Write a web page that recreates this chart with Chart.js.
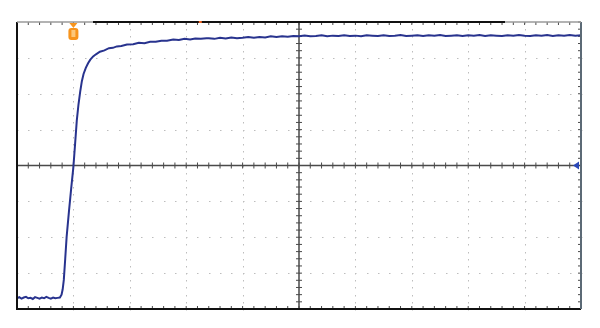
<!DOCTYPE html>
<html>
<head>
<meta charset="utf-8">
<script src="https://cdn.jsdelivr.net/npm/chart.js@4/dist/chart.umd.min.js"></script>
<style>
  html, body { margin: 0; padding: 0; background: #ffffff; }
  #wrap { width: 600px; height: 328px; }
</style>
</head>
<body>
<div id="wrap"><canvas id="c" width="600" height="328"></canvas></div>
<script>
// Horizontal position in divisions (-5 .. 5), vertical value in divisions (-4 .. 4)
const timeDiv = [
  -5.00,-4.96,-4.92,-4.88,-4.84,-4.80,-4.76,-4.72,-4.68,-4.64,-4.60,-4.56,-4.52,-4.48,-4.44,-4.40,-4.36,-4.32,-4.28,-4.24,
  -4.21,-4.19,-4.17,-4.145,-4.12,-4.08,-4.04,-4.00,-3.97,-3.94,-3.91,-3.88,-3.85,-3.82,-3.78,-3.74,-3.70,-3.65,-3.60,
  -3.53,-3.45,-3.37,-3.30,-3.23,-3.15,-3.05,-2.94,-2.84,-2.74,-2.64,-2.54,-2.44,-2.34,-2.23,-2.13,-2.03,-1.93,-1.84,-1.74,-1.64,
  -1.6,-1.5,-1.4,-1.3,-1.2,-1.1,-1.0,-0.9,-0.8,-0.7,-0.6,-0.5,-0.4,-0.3,-0.2,-0.1,
  0.0,0.1,0.2,0.3,0.4,0.5,0.6,0.7,0.8,0.9,1.0,1.1,1.2,1.3,1.4,1.5,1.6,1.7,1.8,1.9,
  2.0,2.1,2.2,2.3,2.4,2.5,2.6,2.7,2.8,2.9,3.0,3.1,3.2,3.3,3.4,3.5,3.6,3.7,3.8,3.9,
  4.0,4.1,4.2,4.3,4.4,4.5,4.6,4.7,4.8,4.9,5.0
];
const traceDiv = [
  -3.70,-3.67,-3.71,-3.68,-3.66,-3.70,-3.69,-3.72,-3.67,-3.69,-3.71,-3.68,-3.70,-3.66,-3.69,-3.71,-3.68,-3.70,-3.69,-3.68,
  -3.60,-3.45,-3.19,-2.60,-1.99,-1.30,-0.65,-0.04,0.60,1.25,1.70,2.05,2.35,2.55,2.72,2.85,2.95,3.04,3.10,
  3.17,3.21,3.27,3.28,3.32,3.33,3.37,3.38,3.42,3.41,3.45,3.45,3.48,3.48,3.51,3.50,3.53,3.51,3.54,3.53,3.55,
  3.55,3.53,3.56,3.54,3.57,3.55,3.56,3.58,3.56,3.58,3.57,3.60,3.58,3.60,3.59,3.61,
  3.60,3.62,3.60,3.61,3.63,3.60,3.62,3.61,3.63,3.61,3.62,3.60,3.63,3.62,3.61,3.63,3.61,3.62,3.64,3.61,
  3.62,3.63,3.61,3.63,3.62,3.64,3.61,3.62,3.63,3.61,3.63,3.62,3.64,3.61,3.63,3.62,3.61,3.63,3.62,3.64,
  3.62,3.61,3.63,3.62,3.64,3.61,3.63,3.62,3.64,3.62,3.63
];
const xDivisions = [-5, 5];
const yDivisions = [-4, 4];
const triggerPos = -4.0;
const markerPos = -1.75;

const points = timeDiv.map((t, i) => ({ x: t, y: traceDiv[i] }));

const scopePlugin = {
  id: 'scope',
  beforeDatasetsDraw(chart) {
    const ctx = chart.ctx, xs = chart.scales.x, ys = chart.scales.y;
    const a = chart.chartArea;
    ctx.save();
    ctx.fillStyle = '#bdbdbd';
    // dotted graticule
    for (let i = xDivisions[0] + 1; i < xDivisions[1]; i++) {
      if (i === 0) continue;
      const px = Math.round(xs.getPixelForValue(i));
      for (let k = 0; k <= (yDivisions[1] - yDivisions[0]) * 5; k++) {
        const py = Math.round(ys.getPixelForValue(yDivisions[0] + k * 0.2));
        ctx.fillRect(px, py, 1, 1.5);
      }
    }
    for (let j = yDivisions[0] + 1; j < yDivisions[1]; j++) {
      if (j === 0) continue;
      const py = Math.round(ys.getPixelForValue(j));
      for (let k = 0; k <= (xDivisions[1] - xDivisions[0]) * 5; k++) {
        const px = Math.round(xs.getPixelForValue(xDivisions[0] + k * 0.2));
        ctx.fillRect(px, py, 1.5, 1);
      }
    }
    // center axes
    const cx = xs.getPixelForValue(0), cy = ys.getPixelForValue(0);
    ctx.strokeStyle = '#4a4a4a';
    ctx.lineWidth = 1.5;
    ctx.beginPath();
    ctx.moveTo(a.left, cy); ctx.lineTo(a.right, cy);
    ctx.moveTo(cx, a.top); ctx.lineTo(cx, a.bottom);
    ctx.stroke();
    ctx.lineWidth = 1;
    ctx.beginPath();
    for (let k = 0; k <= (xDivisions[1] - xDivisions[0]) * 5; k++) {
      const px = xs.getPixelForValue(xDivisions[0] + k * 0.2);
      ctx.moveTo(px, cy - 3); ctx.lineTo(px, cy + 3);
      ctx.moveTo(px, a.top); ctx.lineTo(px, a.top + 3);
      ctx.moveTo(px, a.bottom); ctx.lineTo(px, a.bottom - 3);
    }
    for (let k = 0; k <= (yDivisions[1] - yDivisions[0]) * 5; k++) {
      const py = ys.getPixelForValue(yDivisions[0] + k * 0.2);
      ctx.moveTo(cx - 3, py); ctx.lineTo(cx + 3, py);
      ctx.moveTo(a.right, py); ctx.lineTo(a.right - 3, py);
    }
    ctx.stroke();
    ctx.restore();
  },
  afterDatasetsDraw(chart) {
    const ctx = chart.ctx, xs = chart.scales.x, ys = chart.scales.y;
    const a = chart.chartArea;
    ctx.save();
    // borders
    ctx.lineWidth = 2;
    ctx.strokeStyle = '#111111';
    ctx.beginPath();
    ctx.moveTo(a.left, a.top); ctx.lineTo(a.left, a.bottom); ctx.lineTo(a.right, a.bottom);
    ctx.stroke();
    ctx.strokeStyle = '#5c6a76';
    ctx.beginPath();
    ctx.moveTo(a.right, a.top); ctx.lineTo(a.right, a.bottom);
    ctx.stroke();
    ctx.lineWidth = 1.5;
    ctx.strokeStyle = '#9a9a9a';
    ctx.beginPath();
    ctx.moveTo(a.left, a.top); ctx.lineTo(a.left + 76, a.top);
    ctx.moveTo(a.right - 76, a.top); ctx.lineTo(a.right, a.top);
    ctx.stroke();
    ctx.strokeStyle = '#111111';
    ctx.lineWidth = 2;
    ctx.beginPath();
    ctx.moveTo(a.left + 76, a.top); ctx.lineTo(a.right - 76, a.top);
    ctx.stroke();
    // trigger position marker
    const tx = xs.getPixelForValue(triggerPos);
    ctx.fillStyle = '#f7941d';
    ctx.beginPath();
    ctx.moveTo(tx - 4, a.top + 1); ctx.lineTo(tx + 4, a.top + 1); ctx.lineTo(tx, a.top + 6);
    ctx.closePath(); ctx.fill();
    ctx.beginPath();
    ctx.roundRect(tx - 5, a.top + 6, 10, 12, 3);
    ctx.fill();
    ctx.fillStyle = '#fcc77a';
    ctx.fillRect(tx - 2, a.top + 8, 4, 7);
    // small marker on top edge
    ctx.fillStyle = '#f26522';
    ctx.fillRect(xs.getPixelForValue(markerPos) - 1.5, a.top - 1, 3, 2);
    // ground level marker
    const gy = ys.getPixelForValue(0);
    ctx.fillStyle = '#2a48b8';
    ctx.beginPath();
    ctx.moveTo(a.right - 8, gy); ctx.lineTo(a.right - 2, gy - 4); ctx.lineTo(a.right - 2, gy + 4);
    ctx.closePath(); ctx.fill();
    ctx.restore();
  }
};

new Chart(document.getElementById('c'), {
  type: 'line',
  data: {
    datasets: [{
      data: points,
      borderColor: '#28338e',
      borderWidth: 2,
      pointRadius: 0,
      tension: 0,
      fill: false
    }]
  },
  options: {
    responsive: false,
    animation: false,
    layout: { padding: { left: 17, top: 22, right: 19, bottom: 19 } },
    plugins: { legend: { display: false }, tooltip: { enabled: false } },
    scales: {
      x: { type: 'linear', min: xDivisions[0], max: xDivisions[1], display: false },
      y: { type: 'linear', min: yDivisions[0], max: yDivisions[1], display: false }
    }
  },
  plugins: [scopePlugin]
});
</script>
</body>
</html>
